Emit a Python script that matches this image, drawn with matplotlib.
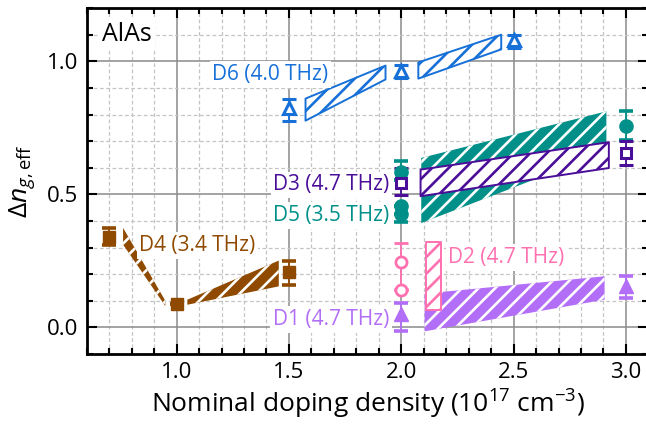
import matplotlib
matplotlib.use("Agg")
import matplotlib.pyplot as plt
from matplotlib.ticker import MultipleLocator

plt.rcParams['font.family'] = ['Open Sans', 'DejaVu Sans']
plt.rcParams['mathtext.fontset'] = 'custom'
plt.rcParams['mathtext.rm'] = 'Open Sans'
plt.rcParams['mathtext.it'] = 'Open Sans:italic'
plt.rcParams['hatch.linewidth'] = 1.9

# ---- data: measured points (x, y, lower err, upper err) ----
d4_x = [0.7, 1.0, 1.5]
d4_y = [0.34, 0.089, 0.208]
d4_lo = [0.032, 0.0, 0.049]
d4_hi = [0.034, 0.0, 0.043]

d6_x = [1.5, 2.0, 2.5]
d6_y = [0.826, 0.962, 1.082]
d6_lo = [0.052, 0.026, 0.032]
d6_hi = [0.033, 0.026, 0.018]

d5_x = [2.0, 2.0, 2.0, 3.0]
d5_y = [0.585, 0.458, 0.425, 0.758]
d5_lo = [0.03, 0.0, 0.03, 0.052]
d5_hi = [0.039, 0.0, 0.0, 0.054]

d3_x = [2.0, 3.0]
d3_y = [0.543, 0.656]
d3_lo = [0.044, 0.047]
d3_hi = [0.055, 0.043]

d2_x = [2.0, 2.0]
d2_y = [0.244, 0.14]
d2_lo = [0.1, 0.0]
d2_hi = [0.073, 0.0]

d1_x = [2.0, 3.0]
d1_y = [0.05, 0.154]
d1_lo = [0.062, 0.044]
d1_hi = [0.043, 0.038]

# ---- data: simulated bands (x range, top edge, bottom edge) ----
d4a_x, d4a_top, d4a_bot = [0.762, 0.95], [0.374, 0.10], [0.311, 0.08]
d4b_x, d4b_top, d4b_bot = [1.048, 1.455], [0.104, 0.251], [0.085, 0.154]
d6a_x, d6a_top, d6a_bot = [1.574, 1.93], [0.86, 0.984], [0.777, 0.932]
d6b_x, d6b_top, d6b_bot = [2.076, 2.445], [0.996, 1.10], [0.935, 1.045]
d5_bx, d5_top, d5_bot = [2.089, 2.913], [0.637, 0.812], [0.392, 0.66]
d3_bx, d3_top, d3_bot = [2.086, 2.924], [0.593, 0.696], [0.493, 0.599]
d1_bx, d1_top, d1_bot = [2.104, 2.905], [0.127, 0.192], [-0.015, 0.104]
d2_bx, d2_top, d2_bot = [2.108, 2.178], [0.32, 0.32], [0.067, 0.067]

c_d1 = '#b36ef7'
c_d2 = '#ff70b0'
c_d3 = '#4a0e98'
c_d4 = '#8f4a00'
c_d5 = '#009089'
c_d6 = '#1670d8'

fig = plt.figure(figsize=(6.46, 4.28), dpi=100)
ax = fig.add_axes([0.1342, 0.173, 0.8695, 0.808])

# grid
ax.set_axisbelow(True)
ax.grid(which='major', color='#8a8a8a', linewidth=1.1, linestyle='-')
ax.grid(which='minor', color='#c4c4c4', linewidth=0.9, linestyle=(0, (3, 2)))


def band_outline(x, top, bot, color):
    ax.fill_between(x, bot, top, facecolor='white', edgecolor=color,
                    hatch='//', linewidth=1.4, zorder=2)


def band_filled(x, top, bot, color):
    ax.fill_between(x, bot, top, facecolor=color, edgecolor='white',
                    hatch='//', linewidth=0, zorder=2)


band_filled(d4a_x, d4a_top, d4a_bot, c_d4)
band_filled(d4b_x, d4b_top, d4b_bot, c_d4)
band_outline(d6a_x, d6a_top, d6a_bot, c_d6)
band_outline(d6b_x, d6b_top, d6b_bot, c_d6)
band_filled(d5_bx, d5_top, d5_bot, c_d5)
band_outline(d3_bx, d3_top, d3_bot, c_d3)
band_filled(d1_bx, d1_top, d1_bot, c_d1)
band_outline(d2_bx, d2_top, d2_bot, c_d2)

eb = dict(linestyle='none', capsize=4.8, capthick=2.6, elinewidth=1.3, zorder=4)
ax.errorbar(d4_x, d4_y, yerr=[d4_lo, d4_hi], color=c_d4, marker='s', ms=9, **eb)
ax.errorbar(d6_x, d6_y, yerr=[d6_lo, d6_hi], color=c_d6, marker='^', ms=9,
            mfc='white', mew=2.2, **eb)
ax.errorbar(d1_x, d1_y, yerr=[d1_lo, d1_hi], color=c_d1, marker='^', ms=9.5, **eb)
ax.errorbar(d2_x, d2_y, yerr=[d2_lo, d2_hi], color=c_d2, marker='o', ms=8,
            mfc='white', mew=2.0, **eb)
ax.errorbar(d5_x, d5_y, yerr=[d5_lo, d5_hi], color=c_d5, marker='o', ms=9.5, **eb)
ax.errorbar(d3_x, d3_y, yerr=[d3_lo, d3_hi], color=c_d3, marker='s', ms=7.5,
            mfc='white', mew=2.2, **eb)

# labels
box = dict(facecolor='white', edgecolor='none', pad=2)
fs = 15
ax.text(0.669, 1.100, 'AlAs', fontsize=18, color='black', va='center', ha='left', bbox=box, zorder=3)
ax.text(1.159, 0.95, 'D6 (4.0 THz)', fontsize=fs, color=c_d6, va='center', ha='left', bbox=box, zorder=3)
ax.text(1.948, 0.536, 'D3 (4.7 THz)', fontsize=fs, color=c_d3, va='center', ha='right', bbox=box, zorder=3)
ax.text(1.948, 0.42, 'D5 (3.5 THz)', fontsize=fs, color=c_d5, va='center', ha='right', bbox=box, zorder=3)
ax.text(1.948, 0.029, 'D1 (4.7 THz)', fontsize=fs, color=c_d1, va='center', ha='right', bbox=box, zorder=3)
ax.text(0.835, 0.307, 'D4 (3.4 THz)', fontsize=fs, color=c_d4, va='center', ha='left', bbox=box, zorder=3)
ax.text(2.21, 0.262, 'D2 (4.7 THz)', fontsize=fs, color=c_d2, va='center', ha='left', bbox=box, zorder=3)

ax.set_xlim(0.6, 3.1)
ax.set_ylim(-0.1, 1.2)
ax.xaxis.set_major_locator(MultipleLocator(0.5))
ax.xaxis.set_minor_locator(MultipleLocator(0.1))
ax.yaxis.set_major_locator(MultipleLocator(0.5))
ax.yaxis.set_minor_locator(MultipleLocator(0.1))
ax.xaxis.set_major_formatter(plt.FormatStrFormatter('%.1f'))
ax.yaxis.set_major_formatter(plt.FormatStrFormatter('%.1f'))

ax.tick_params(which='both', direction='in', top=True, right=True, width=1.5)
ax.tick_params(which='major', length=7, labelsize=16, pad=6)
ax.tick_params(which='minor', length=4)
for s in ax.spines.values():
    s.set_linewidth(2.0)

ax.set_xlabel(r'Nominal doping density (10$^{17}$ cm$^{-3}$)', fontsize=19, labelpad=3)
ax.set_ylabel(r'$\Delta n_{g,\mathrm{eff}}$', fontsize=19, labelpad=7)

fig.savefig('out.png', dpi=100)
